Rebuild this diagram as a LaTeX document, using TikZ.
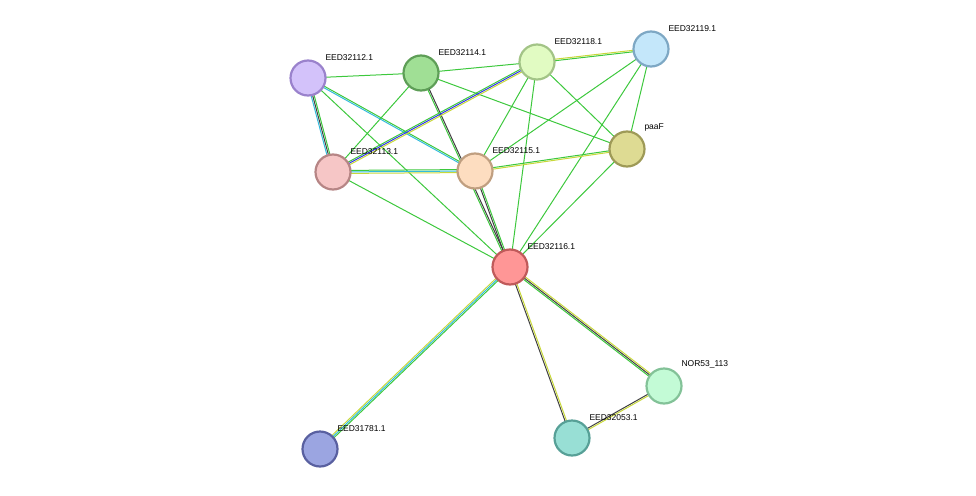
\documentclass[tikz,border=0pt]{standalone}
\usepackage{fontspec}
\setmainfont{Liberation Sans}
\usetikzlibrary{calc,backgrounds}
\definecolor{eg}{HTML}{3DC83D}
\definecolor{ek}{HTML}{404040}
\definecolor{ec}{HTML}{33BBDD}
\definecolor{ey}{HTML}{C8D83A}
\definecolor{eb}{HTML}{3333EE}
% edge made of parallel coloured lines
\newcommand\stredge[4]{%
  \foreach \c [count=\i] in {#4} {%
    \pgfmathsetmacro\off{(\i-(#3+1)/2)*1.5}
    \draw[\c] ($(#1)!\off pt!90:(#2)$) -- ($(#2)!\off pt!-90:(#1)$);
  }}
\begin{document}
\begin{tikzpicture}
[x=1pt,y=-1pt,
 prot/.style={circle,minimum size=35pt,inner sep=0pt,line width=2.2pt},
 lab/.style={font=\fontsize{8.5}{10}\selectfont,anchor=south west,inner sep=1pt},
 every path/.style={line width=1pt}]
\useasboundingbox (0,0) rectangle (976,495);
\node[prot,fill={rgb,255:red,211;green,194;blue,250},draw={rgb,255:red,154;green,130;blue,204}] (p112) at (308,78) {};
\node[prot,fill={rgb,255:red,160;green,223;blue,149},draw={rgb,255:red,94;green,158;blue,87}] (p114) at (421,73) {};
\node[prot,fill={rgb,255:red,225;green,251;blue,194},draw={rgb,255:red,163;green,196;blue,135}] (p118) at (537,62) {};
\node[prot,fill={rgb,255:red,196;green,231;blue,250},draw={rgb,255:red,126;green,168;blue,196}] (p119) at (651,49) {};
\node[prot,fill={rgb,255:red,222;green,219;blue,147},draw={rgb,255:red,158;green,154;blue,87}] (paaF) at (627,149) {};
\node[prot,fill={rgb,255:red,246;green,198;blue,198},draw={rgb,255:red,182;green,133;blue,133}] (p113) at (333,172) {};
\node[prot,fill={rgb,255:red,253;green,221;blue,192},draw={rgb,255:red,192;green,159;blue,128}] (p115) at (475,171) {};
\node[prot,fill={rgb,255:red,255;green,150;blue,150},draw={rgb,255:red,192;green,90;blue,90}] (p116) at (510,267) {};
\node[prot,fill={rgb,255:red,195;green,251;blue,214},draw={rgb,255:red,131;green,194;blue,152}] (nor) at (664,386) {};
\node[prot,fill={rgb,255:red,152;green,223;blue,213},draw={rgb,255:red,87;green,160;blue,151}] (p053) at (572,438) {};
\node[prot,fill={rgb,255:red,155;green,165;blue,225},draw={rgb,255:red,89;green,96;blue,160}] (p781) at (320,449) {};
\node[lab] at (324,62) {EED32112.1};
\node[lab] at (437,57) {EED32114.1};
\node[lab] at (553,46) {EED32118.1};
\node[lab] at (667,33) {EED32119.1};
\node[lab] at (643,133) {paaF};
\node[lab] at (349,156) {EED32113.1};
\node[lab] at (491,155) {EED32115.1};
\node[lab] at (526,251) {EED32116.1};
\node[lab] at (680,370) {NOR53\_113};
\node[lab] at (588,422) {EED32053.1};
\node[lab] at (336,433) {EED31781.1};
\begin{scope}[on background layer]
\stredge{p112}{p114}{1}{eg}
\stredge{p112}{p116}{1}{eg}
\stredge{p114}{p118}{1}{eg}
\stredge{p114}{p113}{1}{eg}
\stredge{p114}{paaF}{1}{eg}
\stredge{p118}{p115}{1}{eg}
\stredge{p118}{p116}{1}{eg}
\stredge{p118}{paaF}{1}{eg}
\stredge{p119}{p115}{1}{eg}
\stredge{p119}{p116}{1}{eg}
\stredge{p119}{paaF}{1}{eg}
\stredge{p113}{p116}{1}{eg}
\stredge{paaF}{p116}{1}{eg}
\stredge{p112}{p113}{3}{ec,ek,eg}
\stredge{p112}{p115}{2}{ec,eg}
\stredge{p114}{p116}{2}{eg,ek}
\stredge{p115}{p116}{2}{ek,eg}
\stredge{p118}{p113}{3}{eg,eb,ey}
\stredge{p118}{p119}{2}{eg,ey}
\stredge{p113}{p115}{3}{ey,ec,eg}
\stredge{p115}{paaF}{2}{ey,eg}
\stredge{p116}{p781}{3}{ey,ec,eg}
\stredge{p116}{p053}{2}{ek,ey}
\stredge{p116}{nor}{3}{eg,ek,ey}
\stredge{nor}{p053}{2}{ek,ey}
\end{scope}
\end{tikzpicture}
\end{document}
